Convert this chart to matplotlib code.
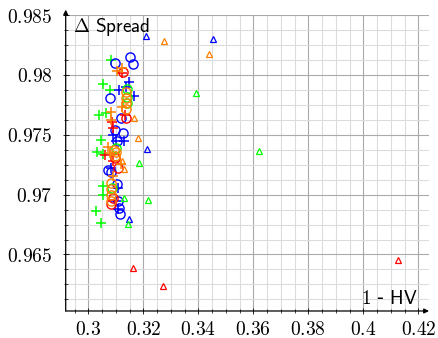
import matplotlib
matplotlib.use("Agg")
import matplotlib.pyplot as plt
from matplotlib.ticker import MultipleLocator, FuncFormatter

plt.rcParams['mathtext.fontset'] = 'cm'
plt.rcParams['font.family'] = ['DejaVu Sans']

# (1 - HV, Delta Spread) pairs, one pair of lists per colour/marker
blue_o_x = [0.3097, 0.3152, 0.3163, 0.3079, 0.3119, 0.3097, 0.3126, 0.3104, 0.3072, 0.3083, 0.3104, 0.3108, 0.3112, 0.3115]
blue_o_y = [0.98102, 0.98152, 0.98094, 0.97811, 0.97636, 0.97536, 0.97511, 0.97444, 0.97203, 0.97186, 0.97086, 0.96944, 0.96886, 0.96836]
blue_p_x = [0.3148, 0.3137, 0.3112, 0.3166, 0.3090, 0.3101, 0.3130, 0.3083, 0.3108, 0.3101, 0.3108]
blue_p_y = [0.97944, 0.97902, 0.97877, 0.97827, 0.97502, 0.97444, 0.97444, 0.97219, 0.97053, 0.96944, 0.96878]
blue_t_x = [0.3210, 0.3453, 0.3214, 0.3148]
blue_t_y = [0.98328, 0.98303, 0.97378, 0.96798]

red_o_x = [0.3126, 0.3137, 0.3097, 0.3108, 0.3090, 0.3083]
red_o_y = [0.98027, 0.97644, 0.97303, 0.97219, 0.96969, 0.96919]
red_p_x = [0.3123, 0.3133, 0.3086, 0.3090, 0.3061, 0.3090]
red_p_y = [0.98017, 0.97669, 0.97603, 0.97553, 0.97328, 0.97278]
red_t_x = [0.3162, 0.3272, 0.4125]
red_t_y = [0.96386, 0.96236, 0.96453]

green_o_x = [0.3141, 0.3141, 0.3141, 0.3101, 0.3086]
green_o_y = [0.97886, 0.97819, 0.97761, 0.97386, 0.97053]
green_p_x = [0.3083, 0.3054, 0.3079, 0.3040, 0.3065, 0.3046, 0.3032, 0.3054, 0.3054, 0.3054, 0.3028, 0.3046]
green_p_y = [0.98122, 0.97922, 0.97872, 0.97664, 0.97681, 0.97456, 0.97356, 0.97339, 0.97069, 0.96994, 0.96861, 0.96761]
green_t_x = [0.3392, 0.3621, 0.3185, 0.3130, 0.3217, 0.3145]
green_t_y = [0.97848, 0.97364, 0.97261, 0.96969, 0.96953, 0.96753]

orange_o_x = [0.3137, 0.3137, 0.3137, 0.3137, 0.3093, 0.3101, 0.3097, 0.3083, 0.3083, 0.3083, 0.3083]
orange_o_y = [0.97861, 0.97811, 0.97761, 0.97711, 0.97369, 0.97353, 0.97319, 0.97094, 0.97044, 0.96994, 0.96944]
orange_p_x = [0.3123, 0.3104, 0.3083, 0.3083, 0.3072, 0.3079, 0.3119, 0.3123, 0.3090]
orange_p_y = [0.98061, 0.98036, 0.97686, 0.97619, 0.97394, 0.97344, 0.97253, 0.97728, 0.97153]
orange_t_x = [0.3275, 0.3439, 0.3166, 0.3181, 0.3123, 0.3130]
orange_t_y = [0.98286, 0.98178, 0.97643, 0.97472, 0.97281, 0.97214]

x_ticks = [0.3, 0.32, 0.34, 0.36, 0.38, 0.4, 0.42]
y_ticks = [0.965, 0.97, 0.975, 0.98, 0.985]

BLUE = (0, 0, 1)
RED = (1, 0, 0)
GREEN = (0, 1, 0)
ORANGE = (1, 0.5, 0)

fig = plt.figure(figsize=(4.38, 3.38), dpi=100)
ax = fig.add_axes([0.150, 0.0799, 0.8295, 0.8757])

def draw(xs, ys, color, marker):
    if marker == 'o':
        ax.plot(xs, ys, 'o', ms=6.6, mfc='none', mec=color, mew=1.0, zorder=3)
    elif marker == '+':
        ax.plot(xs, ys, '+', ms=7.0, mec=color, mew=1.1, zorder=3)
    else:
        ax.plot(xs, ys, '^', ms=5.0, mfc='none', mec=color, mew=0.9, zorder=3)

draw(green_p_x, green_p_y, GREEN, '+')
draw(blue_o_x, blue_o_y, BLUE, 'o')
draw(blue_p_x, blue_p_y, BLUE, '+')
draw(red_o_x, red_o_y, RED, 'o')
draw(red_p_x, red_p_y, RED, '+')
draw(green_o_x, green_o_y, GREEN, 'o')
draw(orange_o_x, orange_o_y, ORANGE, 'o')
draw(orange_p_x, orange_p_y, ORANGE, '+')
draw(blue_t_x, blue_t_y, BLUE, '^')
draw(green_t_x, green_t_y, GREEN, '^')
draw(orange_t_x, orange_t_y, ORANGE, '^')
draw(red_t_x, red_t_y, RED, '^')

ax.set_xlim(0.29178, 0.42389)
ax.set_ylim(0.96028, 0.985)
ax.set_xticks(x_ticks)
ax.set_yticks(y_ticks)
ax.xaxis.set_minor_locator(MultipleLocator(0.005))
ax.yaxis.set_minor_locator(MultipleLocator(0.00125))
fmt = FuncFormatter(lambda v, p: '$%g$' % round(v, 4))
ax.xaxis.set_major_formatter(fmt)
ax.yaxis.set_major_formatter(fmt)
ax.tick_params(which='major', direction='inout', length=5, width=0.6, labelsize=14, colors='black')
ax.tick_params(which='minor', direction='inout', length=3, width=0.5)
ax.tick_params(axis='x', pad=4)
ax.tick_params(axis='y', pad=7)

ax.grid(which='major', color='#aaaaaa', lw=0.8, zorder=0)
ax.grid(which='minor', color='#dcdcdc', lw=0.8, zorder=0)
ax.set_axisbelow(True)

for s in ax.spines.values():
    s.set_visible(False)
arrow = dict(arrowstyle='-|>', lw=0.9, color='black', shrinkA=0, shrinkB=0, mutation_scale=7)
ax.annotate('', xy=(1.0, 0), xytext=(0, 0), xycoords='axes fraction', arrowprops=arrow)
ax.annotate('', xy=(0, 1.018), xytext=(0, 0), xycoords='axes fraction', arrowprops=arrow)

ax.text(0.020, 0.9436, r'$\Delta$ $\mathsf{Spread}$', transform=ax.transAxes,
        fontsize=13.8, ha='left', va='baseline')
ax.text(0.970, 0.0236, r'$\mathsf{1}$ - $\mathsf{HV}$', transform=ax.transAxes,
        fontsize=13.8, ha='right', va='baseline')

fig.savefig('out.png', dpi=100)
